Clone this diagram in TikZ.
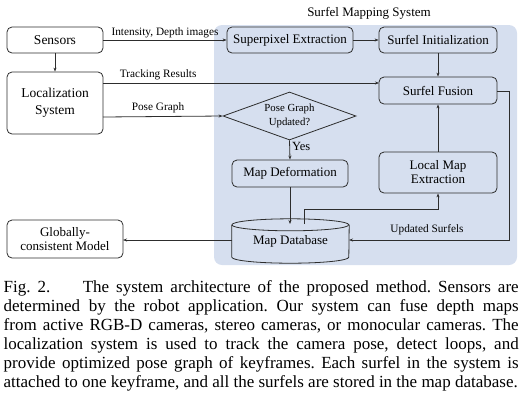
\documentclass[tikz,border=0pt]{standalone}
\usepackage{fontspec}
\setmainfont{Liberation Serif}
\usetikzlibrary{arrows.meta,shapes.geometric,calc}
\definecolor{bluebg}{RGB}{214,223,239}
\definecolor{linec}{RGB}{45,45,45}
\tikzset{
  box/.style={draw=linec, line width=0.8pt, rounded corners=5pt, align=center, inner sep=1pt, font=\fontsize{13}{14}\selectfont},
  lbl/.style={inner sep=0pt, font=\fontsize{11.3}{13}\selectfont},
  conn/.style={draw=linec, line width=0.8pt, -{Stealth[length=4pt,width=3pt]}},
  plain/.style={draw=linec, line width=0.8pt}
}
\begin{document}
\begin{tikzpicture}[x=1pt,y=-1pt]
\useasboundingbox (0,0) rectangle (524,408);
% background region
\fill[bluebg, rounded corners=8pt] (214,25) rectangle (517,265);
\node[lbl, font=\fontsize{13}{14}\selectfont] (title) at (369,13) {Surfel Mapping System};

% nodes
\node[box, minimum width=96pt, minimum height=26pt, font=\fontsize{13.5}{14}\selectfont] (sens) at (55,40) {Sensors};
\node[box, minimum width=96pt, minimum height=62pt, font=\fontsize{13.5}{17}\selectfont] (loc) at (55,103) {Localization\\System};
\node[box, minimum width=126pt, minimum height=26pt] (sup) at (290,40) {Superpixel Extraction};
\node[box, minimum width=118pt, minimum height=26pt] (init) at (438,40) {Surfel Initialization};
\node[box, minimum width=118pt, minimum height=27pt] (fus) at (438,90.5) {Surfel Fusion};
\node[draw=linec, line width=0.8pt, diamond, aspect=2.8, inner sep=0pt, minimum width=133pt, minimum height=48pt, align=center, font=\fontsize{10.8}{14}\selectfont] (dia) at (289.5,116) {Pose Graph\\Updated?};
\node[box, minimum width=116pt, minimum height=27pt] (def) at (290,173.5) {Map Deformation};
\node[box, minimum width=118pt, minimum height=41pt] (lme) at (438,172.5) {Local Map\\Extraction};
\node[box, minimum width=116pt, minimum height=38pt] (glob) at (65,239) {Globally-\\consistent Model};
% map database cylinder
\node[minimum width=117pt, minimum height=44pt, inner sep=0pt, font=\fontsize{13}{14}\selectfont] (db) at (290.5,241) {\raisebox{-3pt}{Map Database}};
\draw[plain] ($(db.north west)+(0,6)$) arc[start angle=180, end angle=-180, x radius=58.5pt, y radius=6pt];
\draw[plain] ($(db.north west)+(0,6)$) -- ($(db.south west)+(0,-6)$) arc[start angle=180, end angle=360, x radius=58.5pt, y radius=6pt] -- ($(db.north east)+(0,6)$);

% coordinates
\coordinate (trk) at (103,83);
\coordinate (trkend) at (379,83);
\coordinate (pg) at (103,117);
\coordinate (dbtop) at (290,224);
\coordinate (dbtop2) at (304,224);
\coordinate (ust) at (497,91);
\coordinate (dbr) at (349,240);
\coordinate (dbl) at (232,240);
\coordinate (glr) at (123,240);

% connectors
\draw[conn] (sens) -- (loc);
\draw[conn] (sens.east) -- node[lbl, above=1.5pt] {Intensity, Depth images} (sup.west);
\draw[conn] (sup) -- (init);
\draw[conn] (init) -- (fus);
\draw[conn] (trk) -- node[lbl, above=3pt, pos=0.2] {Tracking Results} (trkend);
\draw[conn] (pg) -- node[lbl, above=3pt, pos=0.46] {Pose Graph} (dia.west);
\draw[conn] (dia.south) -- node[lbl, right=2pt, pos=0.3, font=\fontsize{12.5}{13}\selectfont] {Yes} (def.north);
\draw[conn] (def.south) -- (dbtop);
\draw[conn] (dbtop2) -- (304,209) -| (lme.south);
\draw[conn] (lme) -- (fus);
\draw[conn] (ust) -- (509,91) -- (509,240) -- (dbr);
\node[lbl] (uslbl) at (427,230) {Updated Surfels};
\draw[conn] (dbl) -- (glr);

% caption
\node[anchor=north west, text width=515pt, align=justify, inner sep=0pt, font=\fontsize{17}{19}\selectfont] (cap) at (3.5,280) {\hyphenpenalty=10000\parfillskip=0pt\frenchspacing
Fig. 2.\hspace{1.5em} The system architecture of the proposed method. Sensors are\linebreak
determined by the robot application. Our system can fuse depth maps\linebreak
from active RGB-D cameras, stereo cameras, or monocular cameras. The\linebreak
localization system is used to track the camera pose, detect loops, and\linebreak
provide optimized pose graph of keyframes. Each surfel in the system is\linebreak
attached to one keyframe, and all the surfels are stored in the map database.};
\end{tikzpicture}
\end{document}
